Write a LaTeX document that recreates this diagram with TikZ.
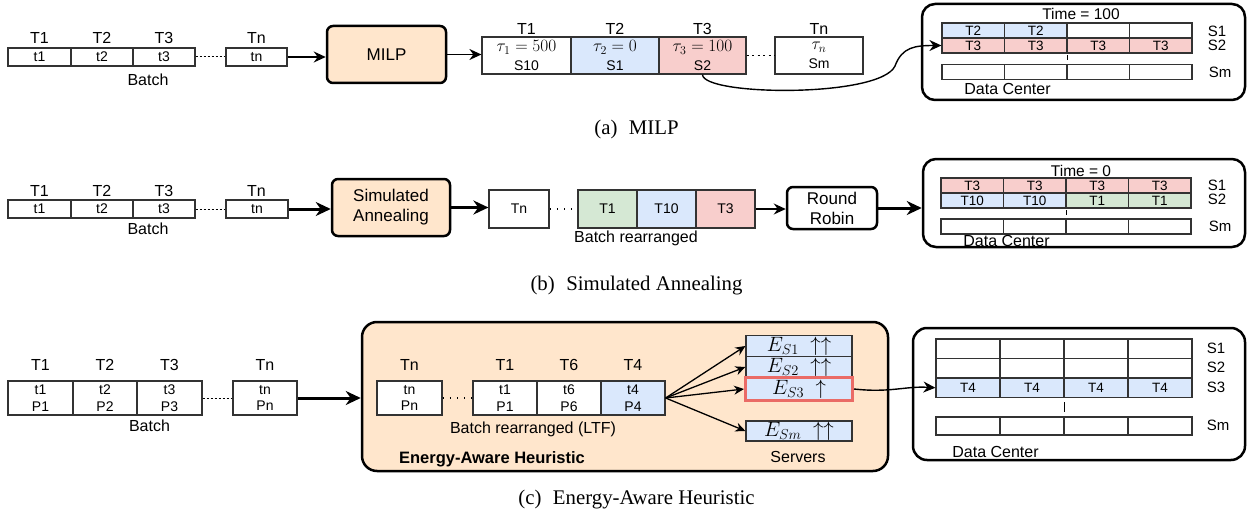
\documentclass[tikz,border=0pt]{standalone}
\usepackage{fontspec}
\setmainfont{Liberation Serif}
\setsansfont{Liberation Sans}
\usetikzlibrary{arrows.meta,calc}
\definecolor{peach}{HTML}{FFE6CC}
\definecolor{lblue}{HTML}{DAE8FC}
\definecolor{lpink}{HTML}{F8CECC}
\definecolor{lgreen}{HTML}{D5E8D4}
\definecolor{hired}{HTML}{EA6B66}
\definecolor{ln}{HTML}{333333}
\newcommand{\fsz}[1]{\fontsize{#1}{#1}\selectfont}
\begin{document}
\begin{tikzpicture}[x=1pt,y=-1pt,
  lab/.style={inner sep=0pt, font=\sffamily\fsz{16}},
  slab/.style={inner sep=0pt, font=\sffamily\fsz{15}},
  cell/.style={draw=ln, line width=1.2pt, inner sep=0pt, font=\sffamily\fsz{14}, align=center},
  cellm/.style={cell, font=\sffamily\fontsize{14}{19}\selectfont},
  cellp/.style={cell, font=\sffamily\fontsize{14}{16.5}\selectfont},
  dcell/.style={draw=ln, line width=1.2pt, inner sep=0pt, font=\sffamily\fsz{13.5}},
  proc/.style={draw=black, line width=2.5pt, rounded corners=6pt, inner sep=0pt, font=\sffamily\fontsize{17}{20}\selectfont, align=center},
  dcbox/.style={draw=black, line width=2.5pt, rounded corners=13pt, inner sep=0pt},
  ebox/.style={draw=ln, line width=1.2pt, fill=lblue, inner sep=0pt, minimum width=106pt, font=\fsz{21}, text height=14pt, text depth=4pt},
  arr/.style={-{Stealth[length=12pt,width=11pt]}, line width=1.4pt},
  earr/.style={-{Stealth[length=10pt,width=9pt]}, line width=1.3pt},
  tarr/.style={-{Stealth[length=15pt,width=14pt]}, line width=3pt},
  dsh/.style={line width=1pt, dash pattern=on 2.5pt off 1.5pt},
  dotl/.style={line width=1.8pt, dash pattern=on 2pt off 3.5pt},
  sdot/.style={line width=1.2pt, dash pattern=on 1.2pt off 6pt},
  captxt/.style={inner sep=0pt, font=\rmfamily\fsz{20.8}}]
\useasboundingbox (0,0) rectangle (1255,516);

% ================= (a) MILP =================
\node[lab] (aT1) at (39.5,38) {T1};
\node[lab] (aT2) at (102,38) {T2};
\node[lab] (aT3) at (164,38) {T3};
\node[lab] (aTn) at (256.5,38) {Tn};
\node[cell, minimum width=63pt, minimum height=18pt] (aB1) at (39.5,57) {t1};
\node[cell, minimum width=62pt, minimum height=18pt] (aB2) at (102,57) {t2};
\node[cell, minimum width=62pt, minimum height=18pt] (aB3) at (164,57) {t3};
\node[cell, minimum width=61pt, minimum height=18pt] (aBn) at (256.5,57) {tn};
\node[lab] (aBatch) at (148,80) {Batch};
\node[proc, fill=peach, minimum width=119pt, minimum height=57pt] (milp) at (386.5,54.5) {MILP};

\node[lab] (aRT1) at (526.5,29) {T1};
\node[lab] (aRT2) at (615,29) {T2};
\node[lab] (aRT3) at (702.5,29) {T3};
\node[lab] (aRTn) at (819,29) {Tn};
\node[cellm, minimum width=89pt, minimum height=37pt] (aR1) at (526.5,55.5) {{\fsz{18.5}$\tau_1 = 500$}\\S10};
\node[cellm, fill=lblue, minimum width=88pt, minimum height=37pt] (aR2) at (615,55.5) {{\fsz{18.5}$\tau_2 = 0$}\\S1};
\node[cellm, fill=lpink, minimum width=87pt, minimum height=37pt] (aR3) at (702.5,55.5) {{\fsz{18.5}$\tau_3 = 100$}\\S2};
\node[cellm, minimum width=88pt, minimum height=37pt] (aRn) at (819,55.5) {{\fsz{18.5}$\tau_n$}\\Sm};

\node[dcbox, minimum width=323pt, minimum height=96pt] (dcA) at (1083.5,52) {};
\node[slab, font=\sffamily\fsz{15.5}] (dcAtime) at (1081,14) {Time = 100};
\foreach \i/\f/\t in {1/lblue/T2,2/lblue/T2,3/white/{},4/white/{}}
  \node[dcell, fill=\f, minimum width=62.5pt, minimum height=15pt] (dcA-1-\i) at ({942+62.5*(\i-0.5)},30.5) {\t};
\foreach \i in {1,...,4}
  \node[dcell, fill=lpink, minimum width=62.5pt, minimum height=15pt] (dcA-2-\i) at ({942+62.5*(\i-0.5)},45.5) {T3};
\foreach \i in {1,...,4}
  \node[dcell, minimum width=62.5pt, minimum height=15pt] (dcA-3-\i) at ({942+62.5*(\i-0.5)},72) {};
\draw[line width=1pt] (1067,55) -- (1067,60);
\node[slab] (dcAS1) at (1217,31) {S1};
\node[slab] (dcAS2) at (1217,45.5) {S2};
\node[slab] (dcASm) at (1220,72) {Sm};
\node[lab] (dcAlab) at (1007.5,89) {Data Center};

\draw[dsh] (aB3.east) -- (aBn.west);
\draw[arr] (aBn.east) -- (aBn.east -| milp.west);
\draw[arr] (milp.east) -- (milp.east -| aR1.west);
\draw[dotl] (aR3.east) -- (aRn.west);
\draw[arr] (aR3.south) .. controls (703,96) and (880,98) .. (895,66) .. controls (902,47) and (915,45.5) .. (dcA-2-1.west);

\node[captxt] (capA) at (636.5,129) {(a)\hspace{0.55em}MILP};

% ================= (b) Simulated Annealing =================
\node[lab] (bT1) at (39.5,191) {T1};
\node[lab] (bT2) at (102,191) {T2};
\node[lab] (bT3) at (164,191) {T3};
\node[lab] (bTnl) at (256.5,191) {Tn};
\node[cell, minimum width=63pt, minimum height=18pt] (bB1) at (39.5,209) {t1};
\node[cell, minimum width=62pt, minimum height=18pt] (bB2) at (102,209) {t2};
\node[cell, minimum width=62pt, minimum height=18pt] (bB3) at (164,209) {t3};
\node[cell, minimum width=62pt, minimum height=18pt] (bBn) at (257,209) {tn};
\node[lab] (bBatch) at (148,229) {Batch};
\node[proc, fill=peach, minimum width=118pt, minimum height=57pt] (sa) at (391,207.5) {Simulated\\Annealing};
\node[cell, minimum width=60pt, minimum height=38pt] (bTn) at (519,209) {Tn};
\node[cell, fill=lgreen, minimum width=59pt, minimum height=38pt] (bR1) at (607.5,209) {T1};
\node[cell, fill=lblue, minimum width=59pt, minimum height=38pt] (bR2) at (666.5,209) {T10};
\node[cell, fill=lpink, minimum width=59pt, minimum height=38pt] (bR3) at (725.5,209) {T3};
\node[lab] (bBR) at (636,238.5) {Batch rearranged};
\node[proc, fill=white, minimum width=90pt, minimum height=42pt] (rr) at (832,208) {Round\\Robin};

\node[dcbox, minimum width=322pt, minimum height=88pt] (dcB) at (1084,203) {};
\node[slab, font=\sffamily\fsz{15.5}] (dcBtime) at (1081,170.5) {Time = 0};
\foreach \i in {1,...,4}
  \node[dcell, fill=lpink, minimum width=62.5pt, minimum height=15pt] (dcB-1-\i) at ({941+62.5*(\i-0.5)},185.5) {T3};
\foreach \i/\f/\t in {1/lblue/T10,2/lblue/T10,3/lgreen/T1,4/lgreen/T1}
  \node[dcell, fill=\f, minimum width=62.5pt, minimum height=15pt] (dcB-2-\i) at ({941+62.5*(\i-0.5)},200.5) {\t};
\foreach \i in {1,...,4}
  \node[dcell, minimum width=62.5pt, minimum height=15pt] (dcB-3-\i) at ({941+62.5*(\i-0.5)},226.5) {};
\draw[line width=1pt] (1066,210) -- (1066,215);
\node[slab] (dcBS1) at (1217,185.5) {S1};
\node[slab] (dcBS2) at (1217,199) {S2};
\node[slab] (dcBSm) at (1220,226.5) {Sm};
\node[lab] (dcBlab) at (1006.5,240.5) {Data Center};

\draw[dsh] (bB3.east) -- (bBn.west);
\draw[tarr] (bBn.east) -- (bBn.east -| sa.west);
\draw[tarr] (sa.east) -- (sa.east -| bTn.west);
\draw[sdot] (bTn.east) -- (bR1.west);
\draw[arr] (bR3.east) -- (bR3.east -| rr.west);
\draw[tarr] (rr.east) -- (rr.east -| dcB.west);

\node[captxt] (capB) at (636.5,285.5) {(b)\hspace{0.55em}Simulated Annealing};

% ================= (c) Energy-Aware Heuristic =================
\node[lab] (cT1) at (40.5,365) {T1};
\node[lab] (cT2) at (105,365) {T2};
\node[lab] (cT3) at (169.5,365) {T3};
\node[lab] (cTnl) at (265,365) {Tn};
\node[cellp, minimum width=65pt, minimum height=34pt] (cB1) at (40.5,398) {t1\\P1};
\node[cellp, minimum width=64pt, minimum height=34pt] (cB2) at (105,398) {t2\\P2};
\node[cellp, minimum width=65pt, minimum height=34pt] (cB3) at (169.5,398) {t3\\P3};
\node[cellp, minimum width=64pt, minimum height=34pt] (cBn) at (265,398) {tn\\Pn};
\node[lab] (cBatch) at (149.5,426) {Batch};

\node[proc, rounded corners=15pt, fill=peach, minimum width=526pt, minimum height=149pt] (eah) at (625,396.5) {};
\node[lab] (cRTn) at (409.5,365) {Tn};
\node[lab] (cRT1) at (505,365) {T1};
\node[lab] (cRT6) at (569,365) {T6};
\node[lab] (cRT4) at (633,365) {T4};
\node[cellp, fill=white, minimum width=65pt, minimum height=34pt] (cTn) at (409.5,398) {tn\\Pn};
\node[cellp, fill=white, minimum width=64pt, minimum height=34pt] (cR1) at (505,398) {t1\\P1};
\node[cellp, fill=white, minimum width=64pt, minimum height=34pt] (cR2) at (569,398) {t6\\P6};
\node[cellp, fill=lblue, minimum width=64pt, minimum height=34pt] (cR3) at (633,398) {t4\\P4};
\node[lab] (cBR) at (533,429) {Batch rearranged (LTF)};
\node[lab, font=\sffamily\bfseries\fsz{16.5}] (eahlab) at (492,459) {Energy-Aware Heuristic};

\node[ebox, minimum height=21pt] (eS1) at (799,346) {$E_{S1}\;\uparrow\uparrow$};
\node[ebox, minimum height=21pt] (eS2) at (799,367) {$E_{S2}\;\uparrow\uparrow$};
\node[ebox, draw=hired, line width=3pt, minimum width=107pt, minimum height=23pt] (eS3) at (799,389) {$E_{S3}\;\uparrow$};
\node[ebox, minimum height=20pt] (eSm) at (799,431) {$E_{Sm}\;\uparrow\uparrow$};
\node[lab] (servers) at (798,457) {Servers};

\node[dcbox, rounded corners=14pt, minimum width=332pt, minimum height=132pt] (dcC) at (1079,394) {};
\foreach \r/\y in {1/348.75,2/368.25}
  \foreach \i in {1,...,4}
    \node[dcell, minimum width=64pt, minimum height=19.5pt] (dcC-\r-\i) at ({936+64*(\i-0.5)},\y) {};
\foreach \i in {1,...,4}
  \node[dcell, fill=lblue, minimum width=64pt, minimum height=19.5pt] (dcC-3-\i) at ({936+64*(\i-0.5)},387.75) {T4};
\foreach \i in {1,...,4}
  \node[dcell, minimum width=64pt, minimum height=18pt] (dcC-4-\i) at ({936+64*(\i-0.5)},426) {};
\draw[line width=1pt] (1064,402) -- (1064,412);
\node[slab] (dcCS1) at (1216,348) {S1};
\node[slab] (dcCS2) at (1216,367.5) {S2};
\node[slab] (dcCS3) at (1216,387.5) {S3};
\node[slab] (dcCSm) at (1218,425) {Sm};
\node[lab] (dcClab) at (995.5,452) {Data Center};

\draw[dsh] (cB3.east) -- (cBn.west);
\draw[tarr] (cBn.east) -- (cBn.east -| eah.west);
\draw[sdot] (cTn.east) -- (cR1.west);
\draw[earr] (cR3.east) -- (eS1.west);
\draw[earr] (cR3.east) -- (eS2.west);
\draw[earr] (cR3.east) -- (eS3.west);
\draw[earr] (cR3.east) -- (eSm.west);
\draw[arr] (eS3.east) .. controls (890,393) and (905,386) .. (dcC-3-1.west);

\node[captxt] (capC) at (636.5,500) {(c)\hspace{0.55em}Energy-Aware Heuristic};
\end{tikzpicture}
\end{document}
